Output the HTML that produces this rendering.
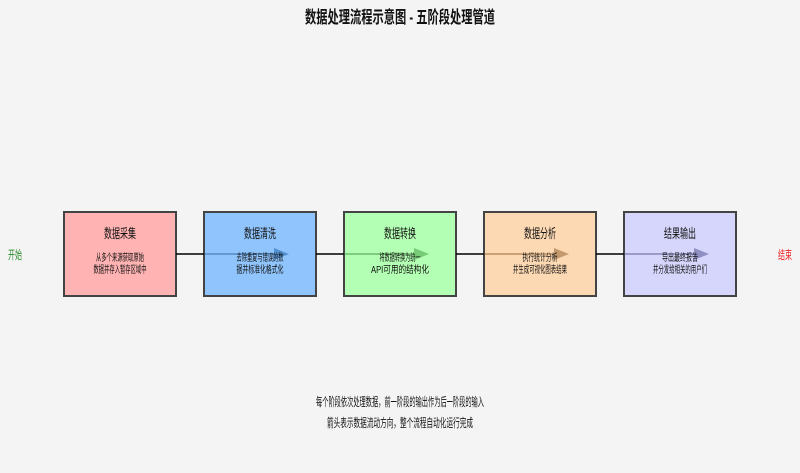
<!DOCTYPE html>
<html><head><meta charset="utf-8"><style>
body{margin:0;background:#f4f4f4;}
svg{display:block;font-family:"Liberation Sans","Noto Sans CJK SC",sans-serif;}
</style></head><body>
<svg width="800" height="473" viewBox="0 0 800 473">
<rect width="800" height="473" fill="#f4f4f4"/>
<text x="400" y="23" text-anchor="middle" font-size="17" font-weight="bold" fill="#111" textLength="190" lengthAdjust="spacingAndGlyphs">数据处理流程示意图 - 五阶段处理管道</text>
<text x="15" y="259" text-anchor="middle" font-size="12" fill="#2a8a2a" textLength="14" lengthAdjust="spacingAndGlyphs">开始</text>
<text x="785" y="259" text-anchor="middle" font-size="12" fill="#ee2222" textLength="14" lengthAdjust="spacingAndGlyphs">结束</text>
<g stroke="#444" stroke-width="2">
<rect x="64" y="212" width="112" height="84" fill="#ffb3b3"/>
<rect x="204" y="212" width="112" height="84" fill="#90c4fc"/>
<rect x="344" y="212" width="112" height="84" fill="#b3ffb3"/>
<rect x="484" y="212" width="112" height="84" fill="#fdd9b3"/>
<rect x="624" y="212" width="112" height="84" fill="#d6d6fc"/>
</g>
<g stroke="#000" stroke-width="1.5">
<line x1="176" y1="254" x2="204" y2="254"/><line x1="316" y1="254" x2="344" y2="254"/>
<line x1="456" y1="254" x2="484" y2="254"/><line x1="596" y1="254" x2="624" y2="254"/>
</g>
<g opacity="0.5">
<line x1="204" y1="254" x2="278" y2="254" stroke="#1a4f8a" stroke-width="1.5"/><polygon points="274,248 289,254 274,260" fill="#1a5fa8"/>
<line x1="344" y1="254" x2="418" y2="254" stroke="#2a7a2a" stroke-width="1.5"/><polygon points="414,248 429,254 414,260" fill="#3a9a3a"/>
<line x1="484" y1="254" x2="558" y2="254" stroke="#7a4a1a" stroke-width="1.5"/><polygon points="554,248 569,254 554,260" fill="#8a5a2a"/>
<line x1="624" y1="254" x2="698" y2="254" stroke="#3a3a7a" stroke-width="1.5"/><polygon points="694,248 709,254 694,260" fill="#4a4a8a"/>
</g>
<g font-size="13" text-anchor="middle" fill="#111" lengthAdjust="spacingAndGlyphs">
<text x="120" y="238" textLength="32" lengthAdjust="spacingAndGlyphs">数据采集</text><text x="260" y="238" textLength="32" lengthAdjust="spacingAndGlyphs">数据清洗</text><text x="400" y="238" textLength="32" lengthAdjust="spacingAndGlyphs">数据转换</text><text x="540" y="238" textLength="32" lengthAdjust="spacingAndGlyphs">数据分析</text><text x="680" y="238" textLength="32" lengthAdjust="spacingAndGlyphs">结果输出</text>
</g>
<g font-size="10" text-anchor="middle" fill="#111">
<text x="120" y="261" textLength="48" lengthAdjust="spacingAndGlyphs">从多个来源获取原始</text><text x="120" y="273" textLength="53" lengthAdjust="spacingAndGlyphs">数据并存入暂存区域中</text>
<text x="260" y="261" textLength="47" lengthAdjust="spacingAndGlyphs">去除重复与错误的数</text><text x="260" y="273" textLength="47" lengthAdjust="spacingAndGlyphs">据并标准化格式化</text>
<text x="400" y="261" textLength="41" lengthAdjust="spacingAndGlyphs">将数据转换为统一</text><text x="400" y="273" textLength="58" lengthAdjust="spacingAndGlyphs">API可用的结构化</text>
<text x="540" y="261" textLength="35" lengthAdjust="spacingAndGlyphs">执行统计分析</text><text x="540" y="273" textLength="54" lengthAdjust="spacingAndGlyphs">并生成可视化图表结果</text>
<text x="680" y="261" textLength="36" lengthAdjust="spacingAndGlyphs">导出最终报告</text><text x="680" y="273" textLength="54" lengthAdjust="spacingAndGlyphs">并分发给相关的用户们</text>
</g>
<g font-size="12" text-anchor="middle" fill="#111">
<text x="400" y="406" textLength="168" lengthAdjust="spacingAndGlyphs">每个阶段依次处理数据，前一阶段的输出作为后一阶段的输入</text>
<text x="400" y="427" textLength="146" lengthAdjust="spacingAndGlyphs">箭头表示数据流动方向，整个流程自动化运行完成</text>
</g>
</svg>
</body></html>
